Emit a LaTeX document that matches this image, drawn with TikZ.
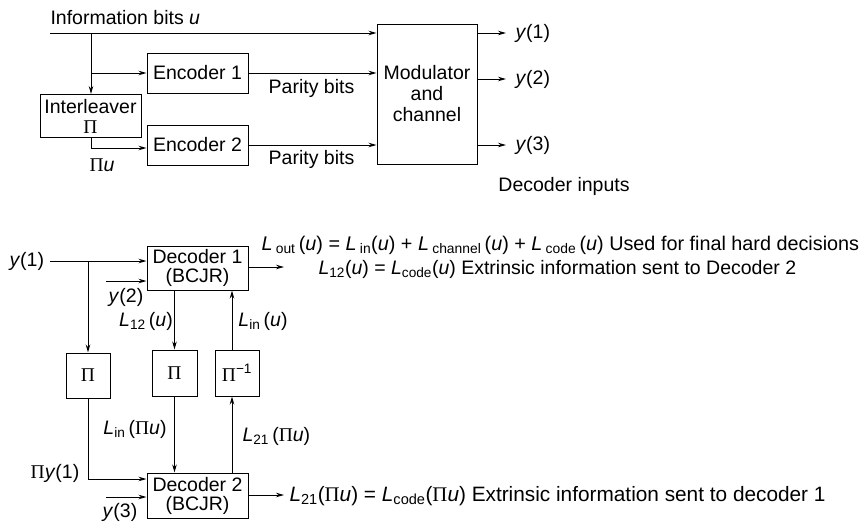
\documentclass[tikz,border=0pt]{standalone}
\usepackage{fontspec}
\setmainfont{Liberation Sans}
\newfontfamily\pifont{Liberation Serif}
\usetikzlibrary{arrows.meta,calc}
\newcommand{\PI}{{\pifont Π}}
\newcommand{\iu}{\textit{u}}
\newcommand{\iy}{\textit{y}}
\newcommand{\iL}{\textit{L}}
\begin{document}
\begin{tikzpicture}[x=1pt,y=-1pt,
  font=\fontsize{19.5}{22}\selectfont,
  line width=1pt,
  box/.style={draw, minimum width=101pt, minimum height=40pt, inner sep=0pt, align=center},
  pibox/.style={draw, minimum width=44pt, minimum height=46pt, inner sep=0pt},
  arr/.style={-{Stealth[length=8pt,width=4.5pt]}},
  lbl/.style={inner sep=0pt}]
\useasboundingbox (0,0) rectangle (864,523);

% ---------- encoder part ----------
\node[box] (enc1) at (197.5,73) {Encoder 1};
\node[box] (enc2) at (197.5,145) {Encoder 2};
\node[box, minimum height=43pt] (intl) at (90.5,116) {Interleaver\\[-2pt]\PI};
\node[box, minimum width=100pt, minimum height=140pt] (mod) at (427,94) {Modulator\\[-1pt]and\\[-1pt]channel};

\node[lbl, anchor=base west] (info) at (50,24) {Information bits \iu};
\coordinate (in0) at (50,33);
\coordinate (br) at (91,33);
\coordinate (b2) at (91,148);
\draw[arr] (in0) -- (in0 -| mod.west);
\draw[arr] (br) -- (br |- intl.north);
\draw[arr] (br |- enc1) -- (enc1.west);
\draw[arr] (intl.south -| b2) -- (b2) -- (b2 -| enc2.west);
\node[lbl] (piu) at (102,165) {\PI\iu};

\draw[arr] (enc1.east) -- (enc1.east -| mod.west);
\draw[arr] (enc2.east) -- (enc2.east -| mod.west);
\node[lbl] (par1) at (311.5,88) {Parity bits};
\node[lbl] (par2) at (311.5,159) {Parity bits};

\node[lbl, anchor=west] (y1) at (515,33) {\iy(1)};
\node[lbl, anchor=west] (y2) at (515,79) {\iy(2)};
\node[lbl, anchor=west] (y3) at (515,145) {\iy(3)};
\coordinate (o1) at (506,33);
\coordinate (o2) at (506,79);
\coordinate (o3) at (506,145);
\draw[arr] (o1 -| mod.east) -- (o1);
\draw[arr] (o2 -| mod.east) -- (o2);
\draw[arr] (o3 -| mod.east) -- (o3);
\node[lbl] (decin) at (564,186) {Decoder inputs};

% ---------- decoder part ----------
\node[box, minimum height=44pt] (dec1) at (197.5,268) {Decoder 1\\[-3pt](BCJR)};
\node[box, minimum height=45pt] (dec2) at (197.5,495.5) {Decoder 2\\[-3pt](BCJR)};
\node[pibox, minimum height=45pt] (pi1) at (88,375.5) {\PI};
\node[pibox, minimum width=45pt] (pi2) at (174.5,373) {\PI};
\node[pibox] (pinv) at (237,373) {\PI\textsuperscript{−1}};

\node[lbl, anchor=west] (y1in) at (9,261) {\iy(1)};
\coordinate (a1) at (50,261);
\coordinate (b3) at (88,261);
\draw[arr] (a1) -- (a1 -| dec1.west);
\draw[arr] (b3) -- (b3 |- pi1.north);
\coordinate (d2in) at ($(dec2.west)+(0,-16.5)$);
\draw[arr] (pi1.south) |- (d2in);
\node[lbl] (piy1) at (55,473) {\PI\iy(1)};

\coordinate (y2s) at (106,281);
\draw[arr] (y2s) -- (y2s -| dec1.west);
\node[lbl] (y2in) at (126,297) {\iy(2)};
\coordinate (y3s) at (106,497);
\draw[arr] (y3s) -- (y3s -| dec2.west);
\node[lbl] (y3in) at (120,512) {\iy(3)};

\coordinate (cx) at (232,0);
\draw[arr] (dec1.south -| pi2) -- (pi2.north);
\node[lbl] (l12) at (146,321) {\iL\textsubscript{12}\,(\iu)};
\draw[arr] (pinv.north -| cx) -- (cx |- dec1.south);
\node[lbl] (lin) at (263,321) {\iL\textsubscript{in}\,(\iu)};
\draw[arr] (pi2.south) -- (pi2.south |- dec2.north);
\node[lbl] (linpi) at (135,429) {\iL\textsubscript{in}\,(\PI\iu)};
\draw[arr] (cx |- dec2.north) -- (cx |- pinv.south);
\node[lbl, anchor=west] (l21) at (242,436) {\iL\textsubscript{21}\,(\PI\iu)};

\coordinate (o4) at (284,267);
\coordinate (o5) at (284,495);
\draw[arr] (dec1.east |- o4) -- (o4);
\draw[arr] (dec2.east |- o5) -- (o5);
\node[lbl, anchor=base west, font=\fontsize{19.8}{22}\selectfont] (t1) at (261,250) {\iL\,\textsubscript{out}\,(\iu) = \iL\,\textsubscript{in}(\iu) + \iL\,\textsubscript{channel}\,(\iu) + \iL\,\textsubscript{code}\,(\iu) Used for final hard decisions};
\node[lbl, anchor=base west] (t2) at (318,274) {\iL\textsubscript{12}(\iu) = \iL\textsubscript{code}(\iu) Extrinsic information sent to Decoder 2};
\node[lbl, anchor=base west, font=\fontsize{20.8}{23}\selectfont] (t3) at (289,501) {\iL\textsubscript{21}(\PI\iu) = \iL\textsubscript{code}(\PI\iu) Extrinsic information sent to decoder 1};
\end{tikzpicture}
\end{document}
